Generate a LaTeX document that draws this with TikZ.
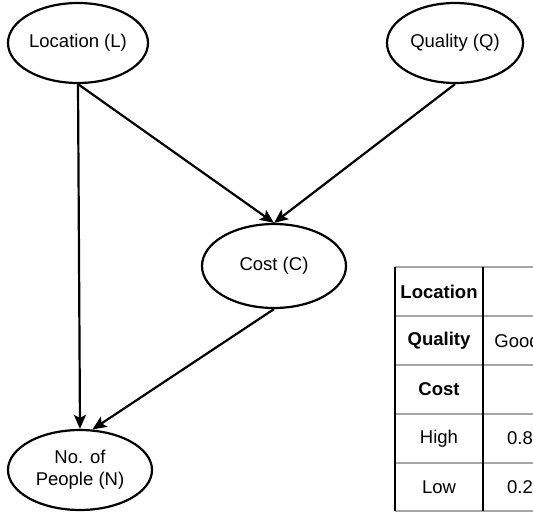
\documentclass[tikz,border=0pt]{standalone}
\usepackage{fontspec}
\setmainfont{Liberation Sans}
\usepackage{tikz}
\usetikzlibrary{shapes.geometric,arrows.meta}

\begin{document}
\begin{tikzpicture}[x=1pt,y=-1pt,
		var/.style={ellipse,draw,line width=2.2pt,inner sep=0pt,align=center,font=\fontsize{18.5}{22}\selectfont},
		link/.style={line width=2.2pt,-{Stealth[length=14pt,width=12pt,inset=3pt]}},
		cell/.style={font=\fontsize{18.5}{22}\selectfont},
		head/.style={font=\fontsize{18.5}{22}\selectfont\bfseries}]
			\clip (0,0) rectangle (533,512);
			% nodes of the network
			\node[var,minimum width=140pt,minimum height=80pt] (loc) at (78,43) {Location (L)};
			\node[var,minimum width=136pt,minimum height=80pt] (qual) at (455,43) {Quality (Q)};
			\node[var,minimum width=144pt,minimum height=84pt] (cost) at (274,266) {Cost (C)};
			\node[var,minimum width=144pt,minimum height=80pt] (ppl) at (80,470) {No. of\\People (N)};
			\draw[link] (loc.south) -- (ppl.north);
			\draw[link] (loc.south) -- (cost.north);
			\draw[link] (qual.south) -- (cost.north);
			\draw[link] (cost.south) -- (ppl.73);
			% table
			\draw[gray!70,line width=1.3pt] (395,267) -- (540,267);
			\draw[gray!70,line width=1.3pt] (395,316) -- (540,316);
			\draw[gray!70,line width=1.3pt] (395,365) -- (540,365);
			\draw[gray!70,line width=1.3pt] (395,414) -- (540,414);
			\draw[gray!70,line width=1.3pt] (395,463) -- (540,463);
			\draw[gray!70,line width=1.3pt] (395,511) -- (540,511);
			\draw[line width=1.3pt] (395,267) -- (395,511);
			\draw[line width=1.3pt] (483,267) -- (483,511);
			\node[head] (tloc) at (439,291.5) {Location};
			\node[head] (tqual) at (439,340.5) {Quality};
			\node[head] (tcost) at (439,389.5) {Cost};
			\node[cell] (thigh) at (439,438.5) {High};
			\node[cell] (tlow) at (439,487.5) {Low};
			\node[cell] (tgood) at (517,340.5) {Good};
			\node[cell] (phigh) at (520,438.5) {0.8};
			\node[cell] (plow) at (520,487.5) {0.2};
		\end{tikzpicture}
\end{document}
